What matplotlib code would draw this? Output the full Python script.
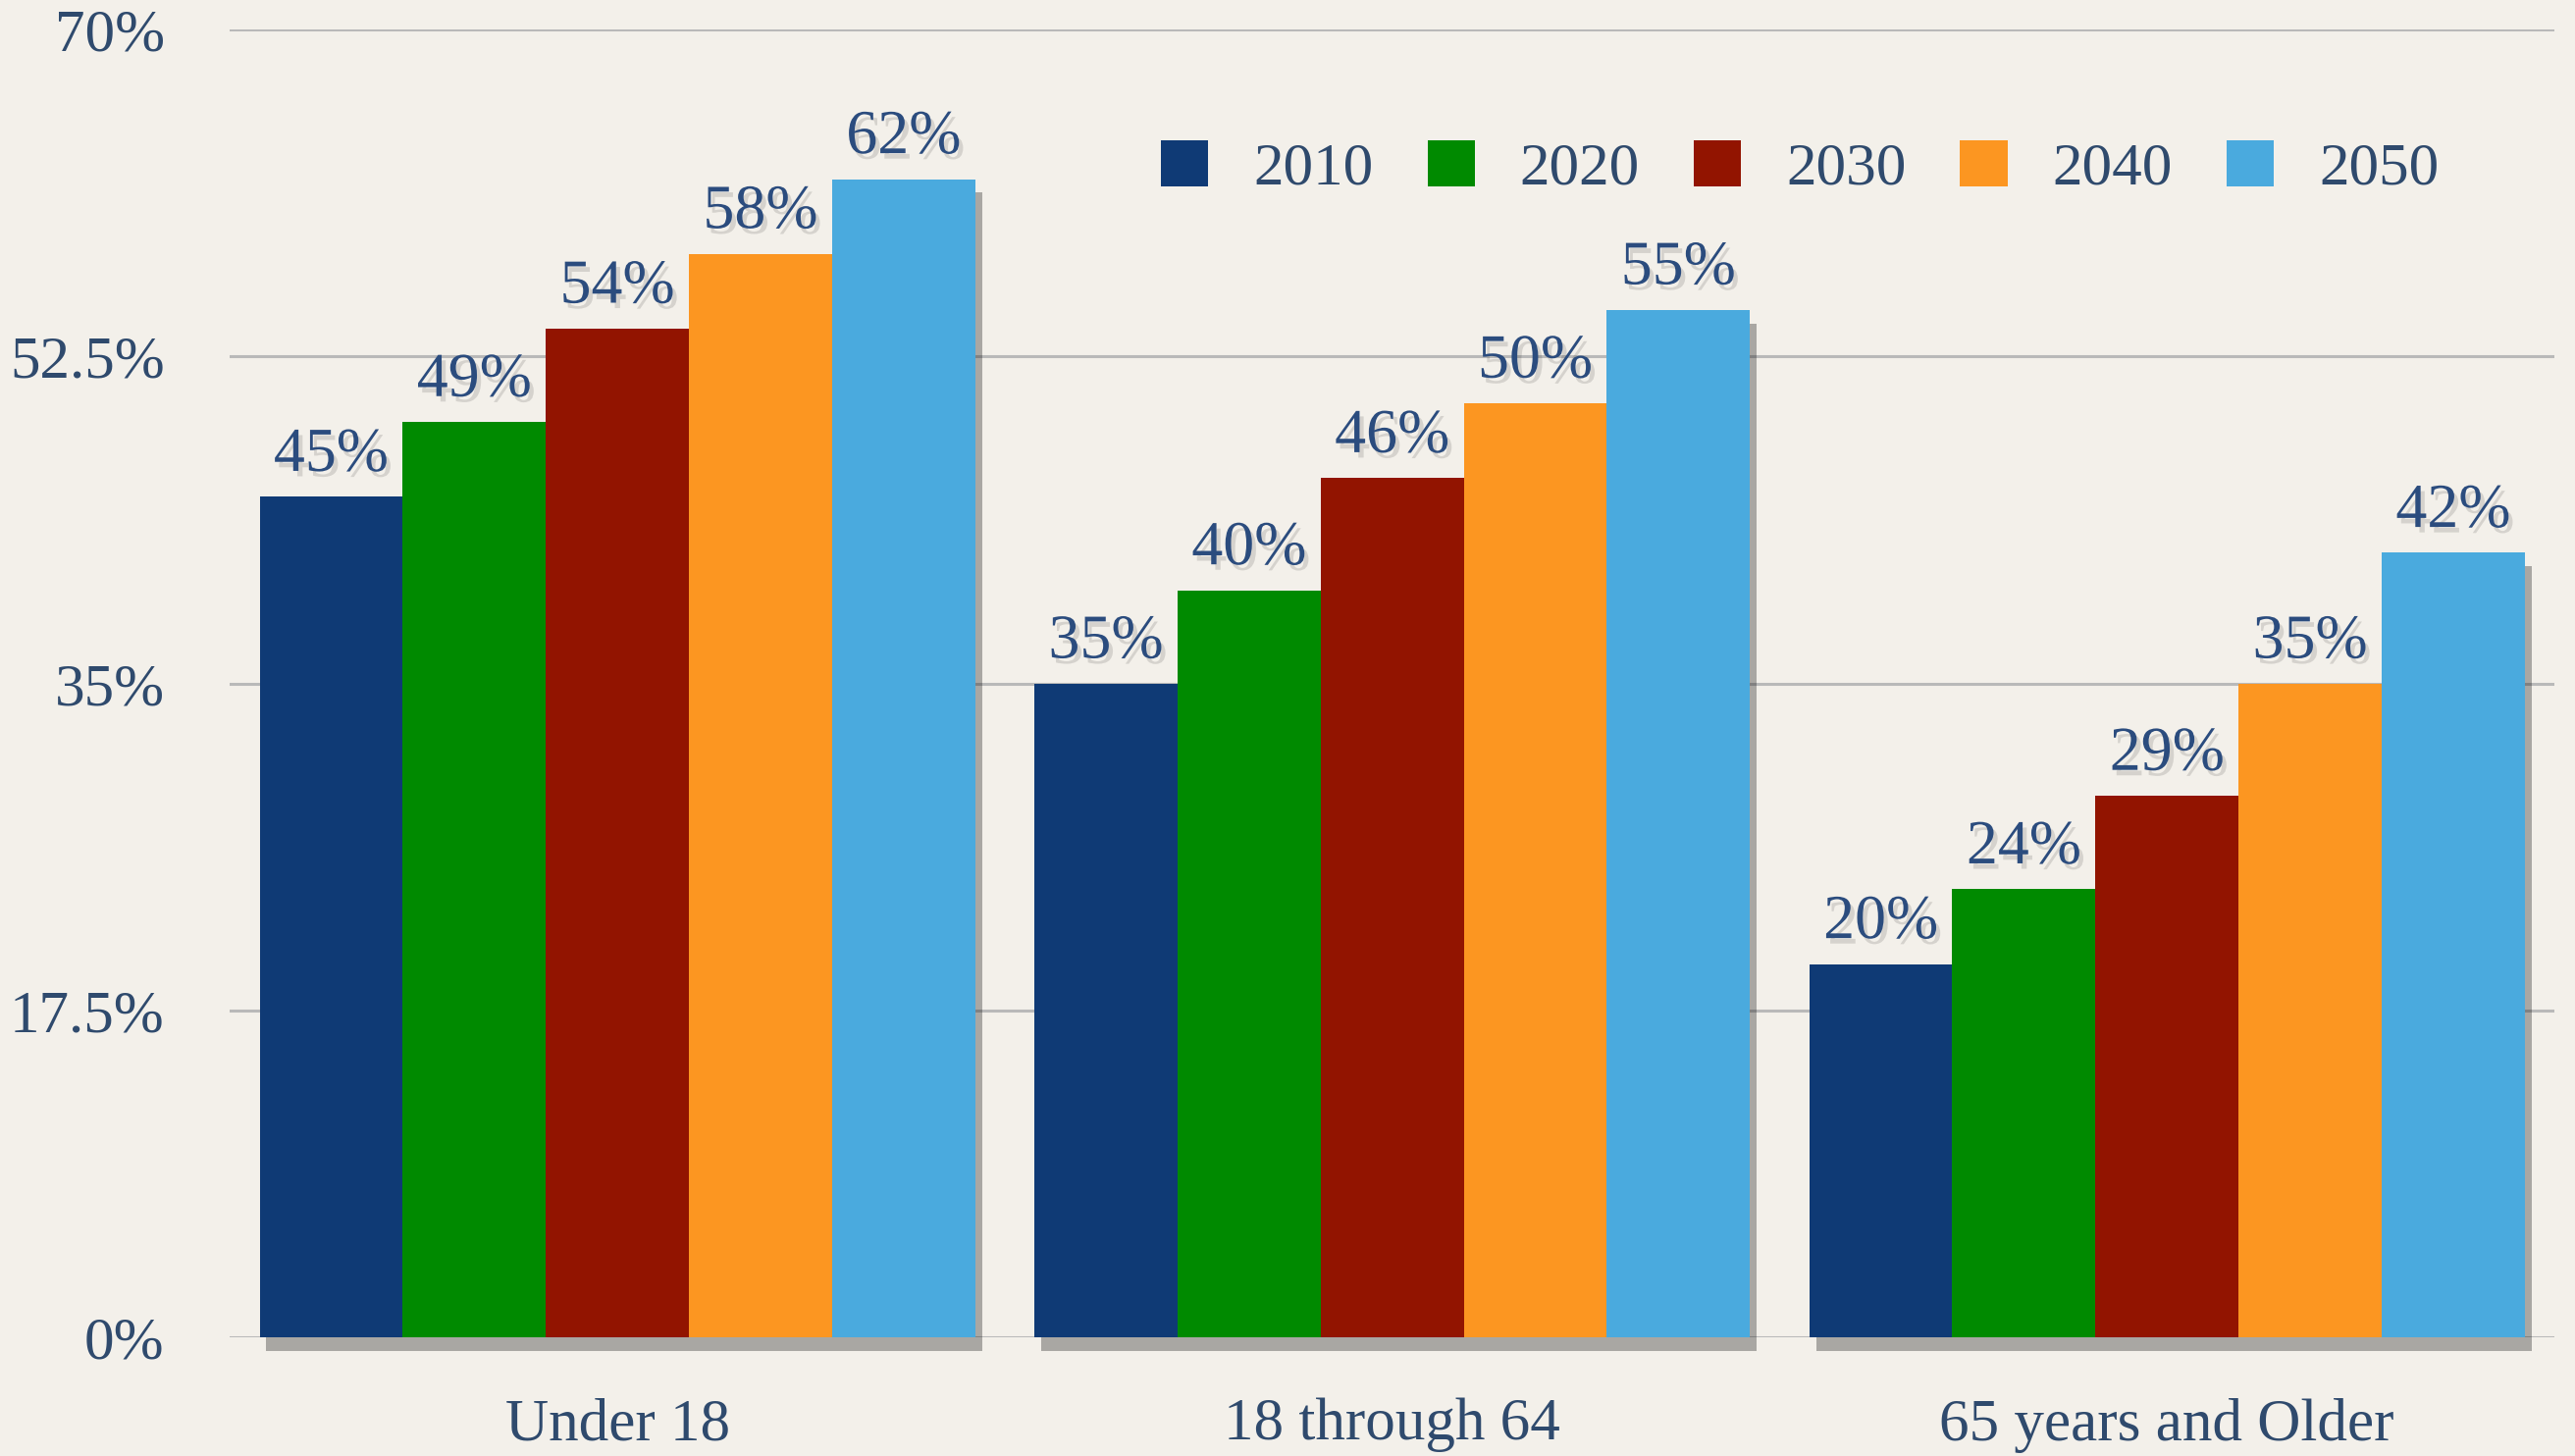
import numpy as np
import matplotlib
matplotlib.use("Agg")
import matplotlib.pyplot as plt
import matplotlib.patheffects as pe
from matplotlib.patches import Patch

# --- data ---
categories = ["Under 18", "18 through 64", "65 years and Older"]
years = ["2010", "2020", "2030", "2040", "2050"]
share_2010 = [45, 35, 20]
share_2020 = [49, 40, 24]
share_2030 = [54, 46, 29]
share_2040 = [58, 50, 35]
share_2050 = [62, 55, 42]
yticks = [0, 17.5, 35, 52.5, 70]
ytick_labels = ["0%", "17.5%", "35%", "52.5%", "70%"]

series = [share_2010, share_2020, share_2030, share_2040, share_2050]
colors = ["#0F3A75", "#008A00", "#921400", "#FC9621", "#4AAADE"]
TEXT = "#2F4A6D"
LABEL = "#2B4C7E"
BG = "#F3F0EA"

plt.rcParams["font.family"] = ["Liberation Serif", "DejaVu Serif"]

fig = plt.figure(figsize=(26.24, 14.84), dpi=100, facecolor=BG)
ax = fig.add_axes([0.0893, 0.0812, 0.9027, 0.8985])
ax.set_facecolor(BG)

x = np.arange(len(categories))
bw = 0.1847
bar_shadow = [pe.SimplePatchShadow(offset=(5, -10), shadow_rgbFace="k", alpha=0.3), pe.Normal()]
txt_shadow = [pe.SimplePatchShadow(offset=(3, -4), shadow_rgbFace="k", alpha=0.12), pe.Normal()]

for i, vals in enumerate(series):
    pos = x + (i - 2) * bw
    bars = ax.bar(pos, vals, width=bw, color=colors[i], zorder=3, clip_on=False)
    for b in bars:
        b.set_path_effects(bar_shadow)
    for px, v in zip(pos, vals):
        ax.annotate(f"{v}%", (px, v), xytext=(0, 19), textcoords="offset points",
                    ha="center", va="baseline", fontsize=46, color=LABEL,
                    path_effects=txt_shadow, zorder=4)

ax.set_xlim(-0.5, 2.5)
ax.set_ylim(0, 70)
ax.set_yticks(yticks)
ax.set_yticklabels(ytick_labels)
ax.set_xticks(x)
ax.set_xticklabels(categories)
ax.tick_params(axis="y", length=0, pad=48, labelsize=44, labelcolor=TEXT)
ax.tick_params(axis="x", length=0, pad=44, labelsize=44, labelcolor=TEXT)
ax.grid(axis="y", color="#B9B9B9", linewidth=2.2, zorder=0)
ax.set_axisbelow(True)
for s in ax.spines.values():
    s.set_visible(False)

handles = [Patch(facecolor=c, label=y) for c, y in zip(colors, years)]
fig.legend(handles=handles, loc="center", bbox_to_anchor=(0.699, 0.884), ncol=5,
           frameon=False, fontsize=44, labelcolor=TEXT, handlelength=0.79,
           handleheight=0.79, handletextpad=0.75, columnspacing=0.9)

fig.savefig("out.png", dpi=100, facecolor=BG)
